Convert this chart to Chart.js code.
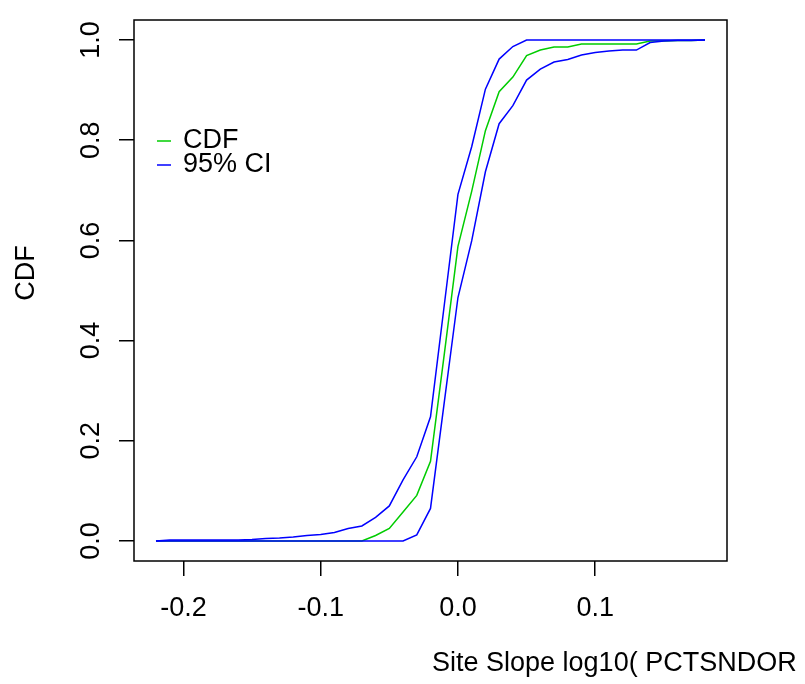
<!DOCTYPE html>
<html>
<head>
<meta charset="utf-8">
<script src="https://cdn.jsdelivr.net/npm/chart.js@4.4.0/dist/chart.umd.min.js"></script>
<style>
  body { margin: 0; background: #fff; }
  #wrap { width: 805px; height: 684px; }
</style>
</head>
<body>
<div id="wrap"><canvas id="cdf-chart" width="805" height="684"></canvas></div>
<script>
const FONT = '"Liberation Sans", Arial, Helvetica, sans-serif';
const FONT_SIZE = 27;

// x values where the CDF was evaluated
const slopeX = [-0.22,-0.21,-0.20,-0.19,-0.18,-0.17,-0.16,-0.15,-0.14,-0.13,-0.12,-0.11,-0.10,-0.09,-0.08,-0.07,-0.06,-0.05,-0.04,-0.03,-0.02,-0.01,0.00,0.01,0.02,0.03,0.04,0.05,0.06,0.07,0.08,0.09,0.10,0.11,0.12,0.13,0.14,0.15,0.16,0.17,0.18];

const cdfValues = [0,0,0,0,0,0,0,0,0,0,0,0,0,0,0,0,0.011,0.025,0.058,0.091,0.159,0.372,0.588,0.698,0.819,0.897,0.926,0.969,0.980,0.986,0.986,0.992,0.992,0.992,0.992,0.992,0.998,0.998,0.999,0.999,1.0];
const ciUpper = [0,0.002,0.002,0.002,0.002,0.002,0.002,0.003,0.005,0.006,0.008,0.011,0.013,0.017,0.025,0.030,0.047,0.070,0.122,0.168,0.248,0.470,0.692,0.787,0.902,0.962,0.987,1,1,1,1,1,1,1,1,1,1,1,1,1,1];
const ciLower = [0,0,0,0,0,0,0,0,0,0,0,0,0,0,0,0,0,0,0,0.012,0.065,0.276,0.486,0.599,0.737,0.833,0.869,0.920,0.942,0.956,0.961,0.970,0.975,0.978,0.980,0.980,0.995,0.998,0.999,0.999,1.0];

const xTicks = [-0.2, -0.1, 0.0, 0.1];
const yTicks = [0.0, 0.2, 0.4, 0.6, 0.8, 1.0];

const xTitle = "Site Slope log10( PCTSNDOR";
const yTitle = "CDF";
const legendItems = [["CDF", "#00cc00"], ["95% CI", "#0000ff"]];

function toPoints(ys) {
    return slopeX.map(function(x, i) { return {x: x, y: ys[i]}; });
}

// box, rotated y labels, titles and legend like an R base plot
const rDecor = {
    id: 'rDecor',
    afterDraw(chart) {
        const ctx = chart.ctx;
        const a = chart.chartArea;
        const ys = chart.scales.y;
        ctx.save();
        ctx.strokeStyle = '#000';
        ctx.lineWidth = 1.5;
        ctx.strokeRect(a.left, a.top, a.right - a.left, a.bottom - a.top);

        ctx.fillStyle = '#000';
        ctx.font = FONT_SIZE + 'px ' + FONT;
        ctx.textAlign = 'center';
        ctx.textBaseline = 'middle';
        yTicks.forEach(function(v) {
            ctx.save();
            ctx.translate(92, ys.getPixelForValue(v));
            ctx.rotate(-Math.PI / 2);
            ctx.fillText(v.toFixed(1), 0, 0);
            ctx.restore();
        });

        ctx.save();
        ctx.translate(27, 273);
        ctx.rotate(-Math.PI / 2);
        ctx.fillText(yTitle, 0, 0);
        ctx.restore();

        ctx.textAlign = 'left';
        ctx.fillText(xTitle, 432, 664);

        // legend
        legendItems.forEach(function(item, i) {
            const y = 141 + i * 24;
            ctx.strokeStyle = item[1];
            ctx.lineWidth = 1.5;
            ctx.beginPath();
            ctx.moveTo(157, y);
            ctx.lineTo(171, y);
            ctx.stroke();
            ctx.fillStyle = '#000';
            ctx.fillText(item[0], 183, y);
        });
        ctx.restore();
    }
};

new Chart("cdf-chart", {
    type: 'line',
    data: {
        datasets: [{
            label: 'CDF',
            data: toPoints(cdfValues),
            borderColor: '#00cc00',
            order: 3
        },
        {
            label: '95% CI',
            data: toPoints(ciUpper),
            borderColor: '#0000ff',
            order: 2
        },
        {
            label: '95% CI lower',
            data: toPoints(ciLower),
            borderColor: '#0000ff',
            order: 1
        }]
    },
    options: {
        responsive: false,
        animation: false,
        layout: { padding: { top: 20, right: 78, left: 0, bottom: 0 } },
        elements: {
            line: { borderWidth: 1.5, tension: 0, fill: false },
            point: { radius: 0 }
        },
        plugins: {
            legend: { display: false },
            tooltip: { enabled: false }
        },
        scales: {
            x: {
                type: 'linear',
                min: -0.236,
                max: 0.196,
                afterBuildTicks: function(scale) {
                    scale.ticks = xTicks.map(function(v) { return {value: v}; });
                },
                afterFit: function(scale) { scale.height = 123; },
                grid: { drawOnChartArea: false, drawTicks: true, tickLength: 15, color: '#000', lineWidth: 1.5 },
                border: { display: false },
                ticks: {
                    color: '#000',
                    font: { family: FONT, size: FONT_SIZE },
                    padding: 16,
                    maxRotation: 0,
                    autoSkip: false,
                    callback: function(v) { return v.toFixed(1); }
                }
            },
            y: {
                type: 'linear',
                min: -0.04,
                max: 1.04,
                afterBuildTicks: function(scale) {
                    scale.ticks = yTicks.map(function(v) { return {value: v}; });
                },
                afterFit: function(scale) { scale.width = 134; },
                grid: { drawOnChartArea: false, drawTicks: true, tickLength: 15, color: '#000', lineWidth: 1.5 },
                border: { display: false },
                ticks: { display: false }
            }
        }
    },
    plugins: [rDecor]
});
</script>
</body>
</html>
